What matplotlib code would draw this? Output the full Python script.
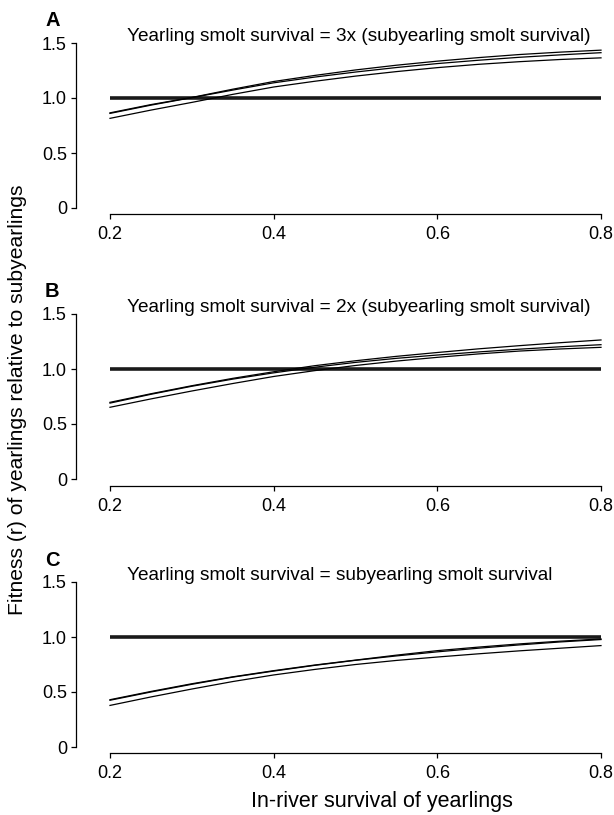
import matplotlib
matplotlib.use("Agg")
import matplotlib.pyplot as plt
import numpy as np

plt.rcParams['font.family'] = ['Liberation Sans', 'DejaVu Sans']

x_vals = [0.20, 0.25, 0.30, 0.35, 0.40, 0.45, 0.50, 0.55, 0.60, 0.65, 0.70, 0.75, 0.80]

# Panel A
a_upper = [0.865, 0.940, 1.005, 1.080, 1.150, 1.205, 1.255, 1.298, 1.335, 1.367, 1.395, 1.417, 1.435]
a_mid   = [0.860, 0.935, 1.003, 1.072, 1.138, 1.190, 1.236, 1.277, 1.313, 1.343, 1.370, 1.392, 1.412]
a_lower = [0.815, 0.890, 0.960, 1.033, 1.100, 1.152, 1.199, 1.240, 1.276, 1.306, 1.330, 1.350, 1.365]
# Panel B
b_upper = [0.697, 0.775, 0.848, 0.915, 0.975, 1.030, 1.075, 1.115, 1.150, 1.183, 1.212, 1.239, 1.264]
b_mid   = [0.690, 0.770, 0.843, 0.908, 0.965, 1.016, 1.060, 1.097, 1.127, 1.155, 1.180, 1.202, 1.221]
b_lower = [0.652, 0.728, 0.800, 0.868, 0.932, 0.985, 1.032, 1.072, 1.106, 1.137, 1.163, 1.182, 1.197]
# Panel C
c_upper = [0.430, 0.505, 0.575, 0.638, 0.694, 0.745, 0.790, 0.835, 0.876, 0.908, 0.937, 0.962, 0.982]
c_mid   = [0.425, 0.500, 0.570, 0.635, 0.690, 0.742, 0.788, 0.828, 0.865, 0.898, 0.928, 0.955, 0.977]
c_lower = [0.378, 0.455, 0.527, 0.595, 0.655, 0.705, 0.750, 0.787, 0.818, 0.847, 0.874, 0.898, 0.922]

reference = [1.0, 1.0]
ref_x = [0.2, 0.8]

panel_letters = ["A", "B", "C"]
panel_titles = [
    "Yearling smolt survival = 3x (subyearling smolt survival)",
    "Yearling smolt survival = 2x (subyearling smolt survival)",
    "Yearling smolt survival = subyearling smolt survival",
]
curves = [(a_upper, a_mid, a_lower), (b_upper, b_mid, b_lower), (c_upper, c_mid, c_lower)]
x_ticks = [0.2, 0.4, 0.6, 0.8]
x_ticklabels = ["0.2", "0.4", "0.6", "0.8"]
y_ticks = [0, 0.5, 1.0, 1.5]
y_ticklabels = ["0", "0.5", "1.0", "1.5"]

W, H = 614, 815
fig = plt.figure(figsize=(W / 100, H / 100), dpi=100)

# pixel geometry
spine_x = 76
x02_px, x08_px = 110, 601
pxu_x = (x08_px - x02_px) / 0.6
pxu_y = 110
zero_px = [208, 479, 747]
gap_px = [6, 7, 6]
xlim_left = 0.2 - (x02_px - spine_x) / pxu_x
xlim_right = 0.806
ytop = 1.53

for i in range(3):
    y0 = zero_px[i]
    bottom_px = y0 + gap_px[i]
    ylim_bottom = -gap_px[i] / pxu_y
    top_px = y0 - ytop * pxu_y
    right_px = x02_px + (xlim_right - 0.2) * pxu_x
    ax = fig.add_axes([spine_x / W, 1 - bottom_px / H,
                       (right_px - spine_x) / W, (bottom_px - top_px) / H])
    ax.set_xlim(xlim_left, xlim_right)
    ax.set_ylim(ylim_bottom, ytop)
    for s in ("top", "right"):
        ax.spines[s].set_visible(False)
    ax.spines["left"].set_bounds(0, 1.5)
    ax.spines["bottom"].set_bounds(0.2, 0.8)
    for s in ("left", "bottom"):
        ax.spines[s].set_linewidth(0.9)
    ax.set_xticks(x_ticks)
    ax.set_xticklabels(x_ticklabels)
    ax.set_yticks(y_ticks)
    ax.set_yticklabels(y_ticklabels)
    ax.tick_params(direction="out", length=3.5, width=0.9, labelsize=13, colors="black")
    ax.tick_params(axis="y", pad=3)
    ax.tick_params(axis="x", pad=5)
    ax.patch.set_visible(False)

    ax.plot(ref_x, reference, color="#1a1a1a", lw=2.6, solid_capstyle="butt", zorder=2)
    for ys in curves[i]:
        ax.plot(x_vals, ys, color="black", lw=0.9, zorder=3)

    # title and letter
    fig.text(127 / W, 1 - (y0 - 167) / H, panel_titles[i], fontsize=13.7,
             ha="left", va="baseline")
    fig.text(45 / W, 1 - (y0 - 187) / H, panel_letters[i], fontsize=14.5,
             fontweight="bold", ha="left", va="center")

fig.text(18 / W, 1 - 400 / H, "Fitness (r) of yearlings relative to subyearlings",
         rotation=90, ha="center", va="center", fontsize=15.2)
fig.text(382 / W, 1 - 801 / H, "In-river survival of yearlings",
         ha="center", va="center", fontsize=15.5)

fig.savefig("out.png", dpi=100)
